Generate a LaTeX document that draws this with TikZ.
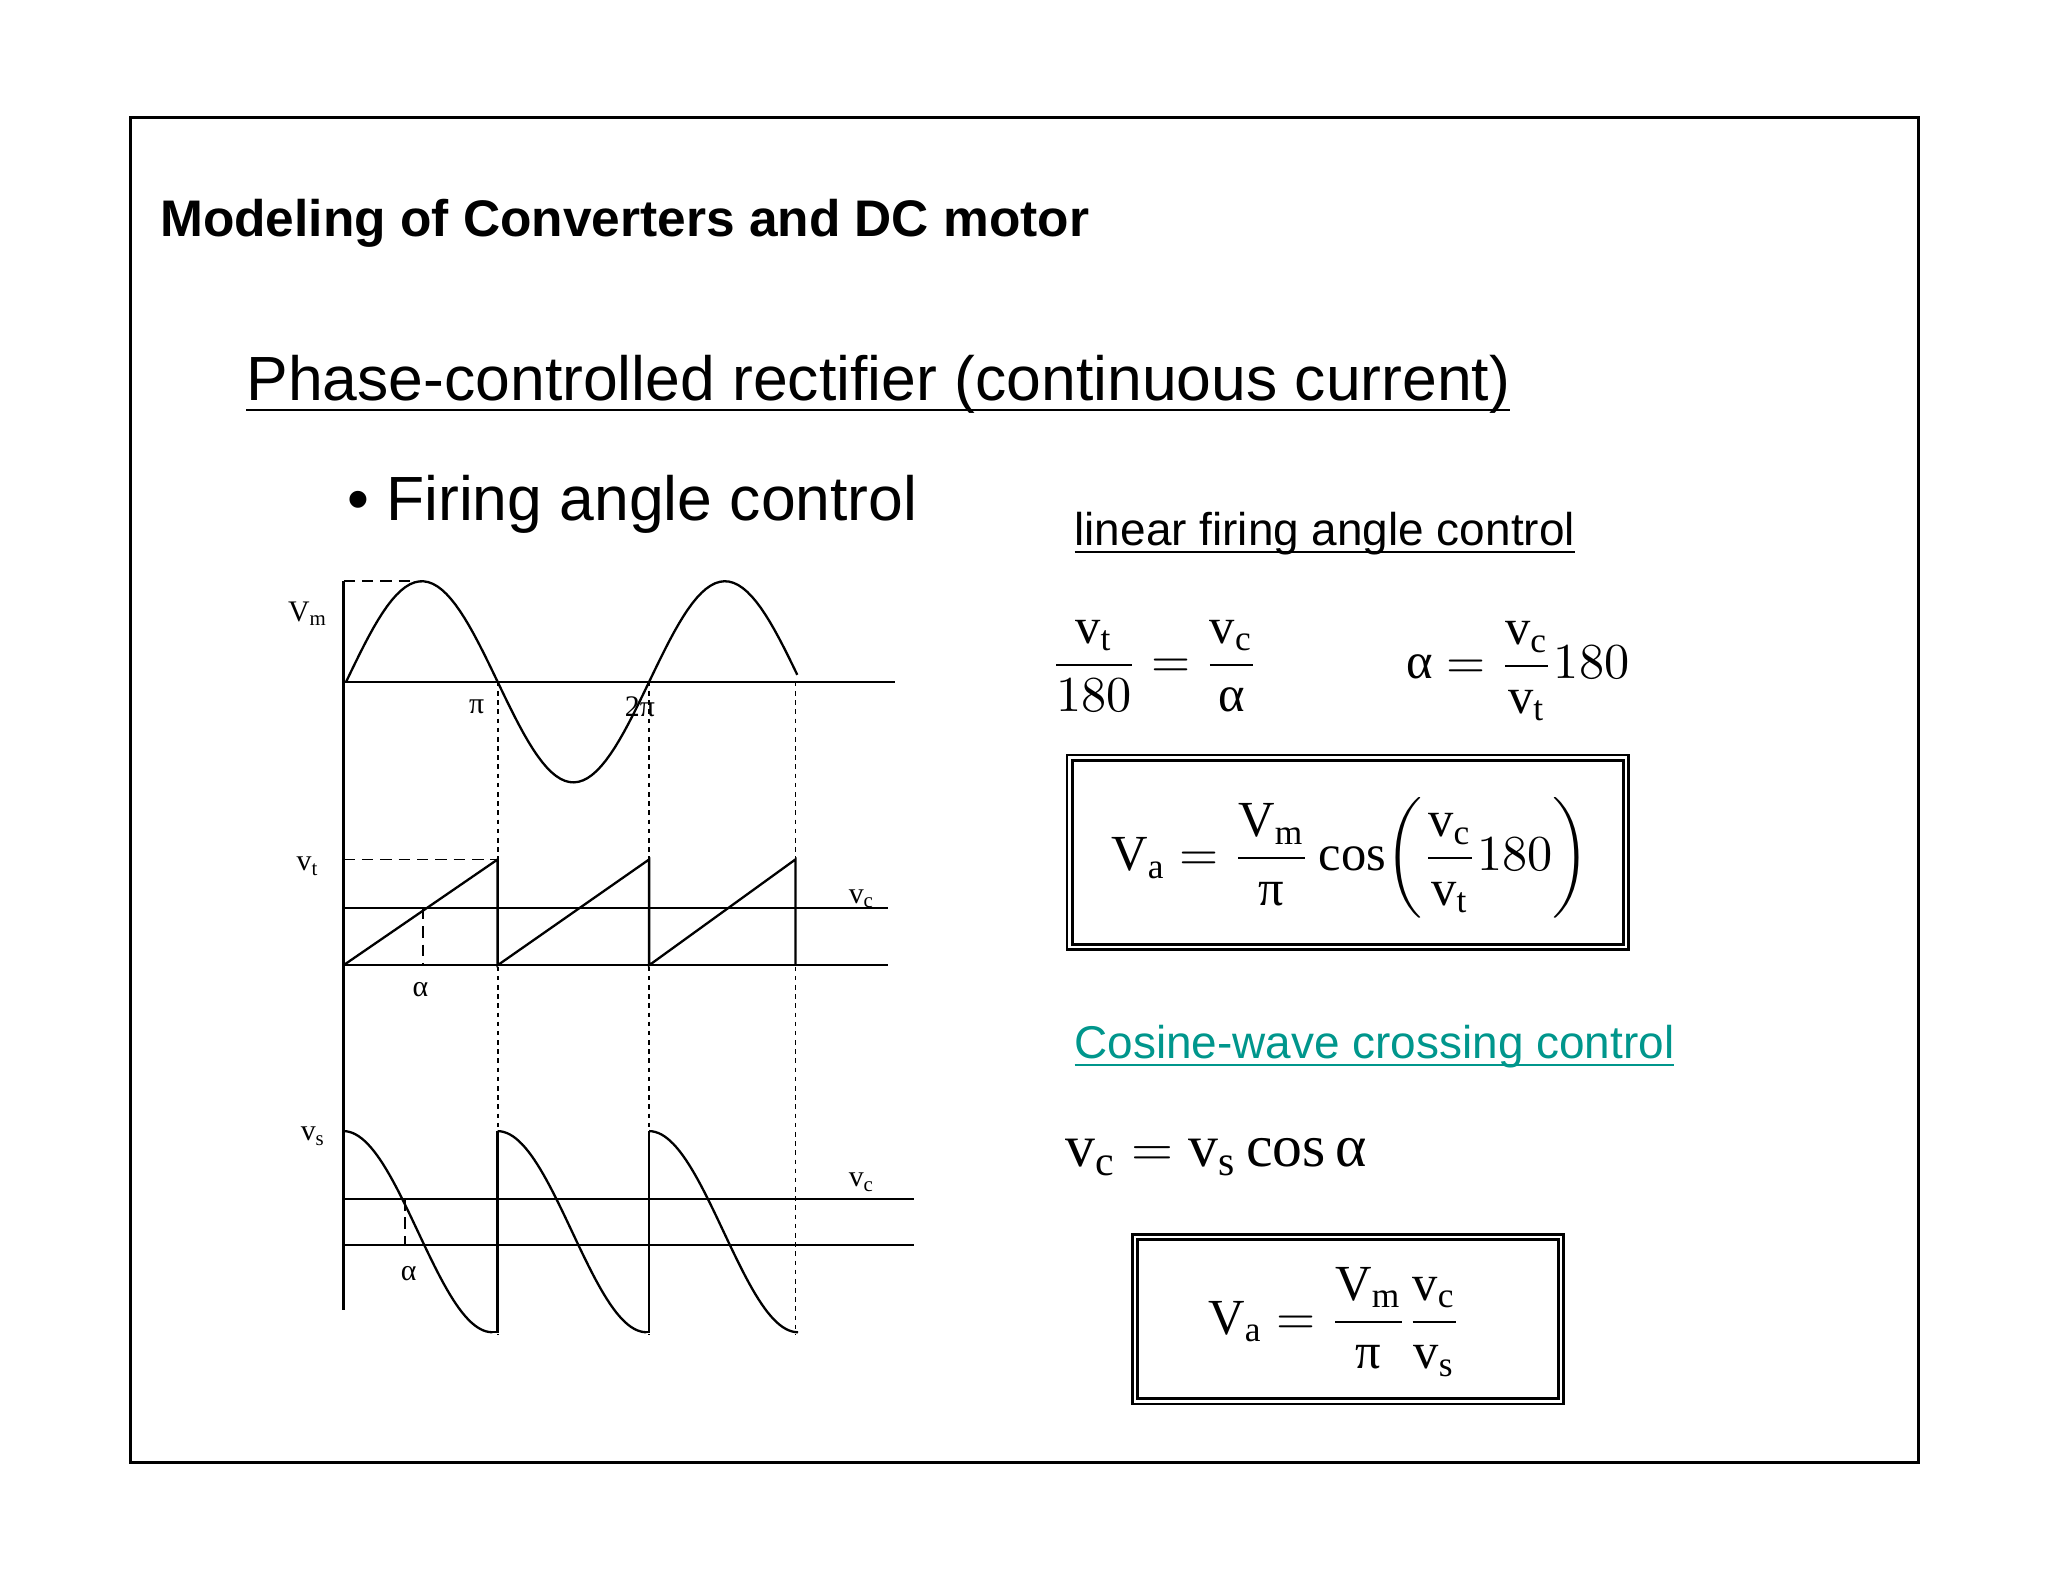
\documentclass[tikz,border=0pt]{standalone}
\usepackage{fontspec}
\setmainfont{Liberation Serif}
\newfontfamily\hsans{Liberation Sans}
\usepackage{amsmath}
\definecolor{teal2}{RGB}{0,150,140}
\newcommand{\ua}{\text{α}}
\newcommand{\upi}{\text{π}}
\newcommand{\ulx}[1]{\underline{\smash{#1}}}
\begin{document}
\begin{tikzpicture}[x=0.01cm,y=-0.01cm,
  ln/.style={line width=0.5pt},
  lbl/.style={font=\fontsize{6.5}{7}\selectfont,inner sep=0pt},
  dotv/.style={line width=0.4pt,dash pattern=on 1pt off 1pt},
  dashh/.style={line width=0.4pt,dash pattern=on 2.5pt off 1.5pt},
  eq/.style={font=\fontsize{11}{13}\selectfont,inner sep=0pt}]
\useasboundingbox (0,0) rectangle (1568,1211);
\draw[line width=0.6pt] (100,90) rectangle (1469,1120);
\node[anchor=west,font=\hsans\bfseries\fontsize{11.2}{13}\selectfont,inner sep=0pt] (title) at (122,171) {Modeling of Converters and DC motor};
\node[anchor=west,font=\hsans\fontsize{13.6}{16}\selectfont,inner sep=0pt] (head) at (188,312) {\ulx{Phase-controlled rectifier (continuous current)}};
\node[anchor=west,font=\hsans\fontsize{13.6}{16}\selectfont,inner sep=0pt] (bul) at (265,386) {\textbullet\ Firing angle control};
% axes
\draw[ln] (263,445) -- (263,1003);
\draw[ln] (263,522) -- (685,522);
\draw[ln] (263,695) -- (680,695);
\draw[ln] (263,739) -- (680,739);
\draw[ln] (263,918) -- (700,918);
\draw[ln] (263,953) -- (700,953);
% sine
\draw[ln,domain=0:536,samples=100,variable=\t] plot ({265+\t/360*232},{522-77*sin(\t)});
\draw[dashh] (263,445) -- (318,445);
\foreach \x in {381,497,609} \draw[dotv] (\x,522) -- (\x,1022);
\node[lbl] (vm) at (236,470) {V$_\mathrm{m}$};
\node[lbl] (pi) at (365,541) {π};
\node[lbl] (tpi) at (490,541) {2π};
% sawtooth
\draw[ln] (263,739) -- (381,658) -- (381,739) -- (497,658) -- (497,739) -- (609,658) -- (609,739);
\draw[dashh] (263,658) -- (381,658);
\draw[dashh] (324,695) -- (324,739);
\node[lbl] (vt) at (236,663) {v$_\mathrm{t}$};
\node[lbl] (vc1) at (660,688) {v$_\mathrm{c}$};
\node[lbl] (a1) at (322,758) {α};
% cosine
\foreach \s in {263,381,497} {
  \draw[ln,domain=0:180,samples=50,variable=\t] plot ({\s+\t/180*114},{943-77*cos(\t)});
}
\draw[ln] (377,1020) -- (381,1020) -- (381,866);
\draw[ln] (493,1020) -- (497,1020) -- (497,866);
\draw[dashh] (310,918) -- (310,953);
\node[lbl] (vs) at (240,870) {v$_\mathrm{s}$};
\node[lbl] (vc2) at (660,905) {v$_\mathrm{c}$};
\node[lbl] (a2) at (313,975) {α};
% right side
\node[anchor=west,font=\hsans\fontsize{10}{12}\selectfont,inner sep=0pt] (lin) at (822,421) {\ulx{linear firing angle control}};
\node[eq] (e1) at (884,510) {$\dfrac{\mathrm{v_t}}{180}=\dfrac{\mathrm{v_c}}{\ua}$};
\node[eq] (e2) at (1162,514) {$\ua=\dfrac{\mathrm{v_c}}{\mathrm{v_t}}180$};
\draw[line width=0.6pt] (817,578) rectangle (1247,727);
\draw[line width=0.6pt] (821,582) rectangle (1243,723);
\node[eq] (e3) at (1034,657) {$\mathrm{V_a}=\dfrac{\mathrm{V_m}}{\upi}\cos\!\left(\dfrac{\mathrm{v_c}}{\mathrm{v_t}}180\right)$};
\node[anchor=west,font=\hsans\fontsize{10}{12}\selectfont,inner sep=0pt,text=teal2] (cos) at (822,814) {\ulx{Cosine-wave crossing control}};
\node[anchor=west,eq,font=\fontsize{13}{15}\selectfont] (e4) at (815,886) {$\mathrm{v_c}=\mathrm{v_s}\cos\ua$};
\draw[line width=0.6pt] (867,945) rectangle (1197,1075);
\draw[line width=0.6pt] (871,949) rectangle (1193,1071);
\node[eq] (e5) at (1022,1012) {$\mathrm{V_a}=\dfrac{\mathrm{V_m}}{\upi}\dfrac{\mathrm{v_c}}{\mathrm{v_s}}$};
\end{tikzpicture}
\end{document}
